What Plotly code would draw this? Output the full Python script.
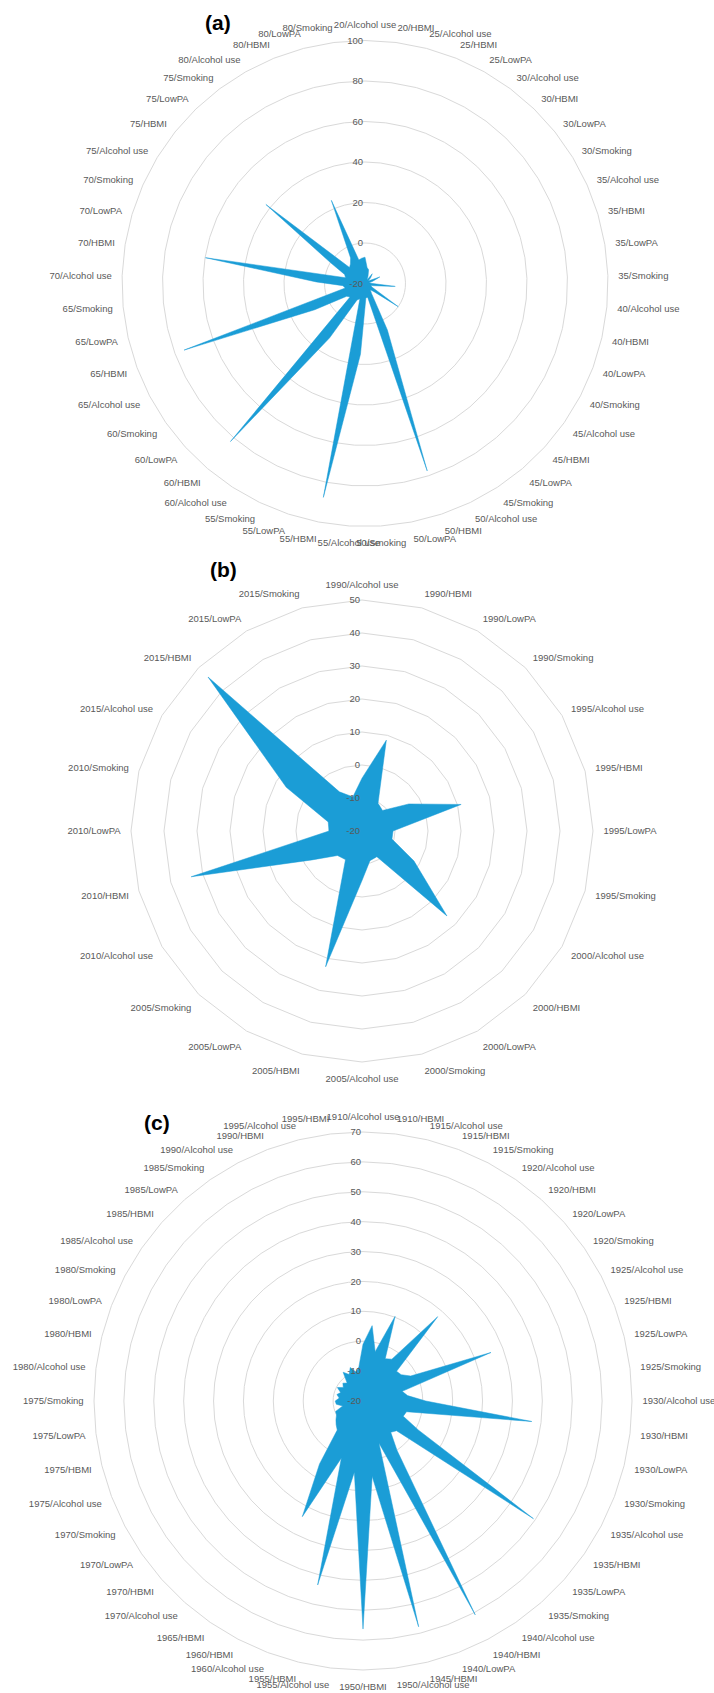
import plotly.graph_objects as go

# ---------------- (a) by age ----------------
ages_a = ["20", "20", "25", "25", "25"] + [a for a in ["30", "35", "40", "45", "50", "55", "60", "65", "70", "75", "80"] for _ in range(4)]
risk4 = ["Alcohol use", "HBMI", "LowPA", "Smoking"]
risks_a = ["Alcohol use", "HBMI", "Alcohol use", "HBMI", "LowPA"] + risk4 * 11
cats_a = [f"{a}/{r}" for a, r in zip(ages_a, risks_a)]
vals_a = [
    -7, -12,                 # 20
    -13, -16, -18,           # 25
    -14, -16, -18, -17,      # 30
    -12, -16, -18, -17,      # 35
    -5, -15, -17, -16,       # 40
    0, -14, -16, -14,        # 45
    5.5, 77.5, -13, -13,     # 50
    15, 87.6, -12, -11,      # 55
    12, 82.5, -10, -9,       # 60
    8, 75.2, -10, -9,        # 65
    4, 59.8, -10, -9,        # 70
    0, 42.6, -9, -8,         # 75
    -5.5, 24.3, -8, -7.4,    # 80
]

# ---------------- (b) by period ----------------
years_b = ["1990", "1995", "2000", "2005", "2010", "2015"]
cats_b = [f"{y}/{r}" for y in years_b for r in risk4]
vals_b = [
    -4, 8.5, -10.3, -11.2,     # 1990
    -3.6, 11.1, -10.6, -10.6,  # 1995
    -1.8, 16.4, -11, -10.7,    # 2000
    -5, 22.6, -10, -9.5,       # 2005
    -2.5, 33.6, -10, -9.4,     # 2010
    6.5, 46, -6.3, -9.3,       # 2015
]

# ---------------- (c) by birth cohort ----------------
cats_c = [
    "1910/Alcohol use", "1910/HBMI",
    "1915/Alcohol use", "1915/HBMI", "1915/Smoking",
    "1920/Alcohol use", "1920/HBMI", "1920/LowPA", "1920/Smoking",
    "1925/Alcohol use", "1925/HBMI", "1925/LowPA", "1925/Smoking",
    "1930/Alcohol use", "1930/HBMI", "1930/LowPA", "1930/Smoking",
    "1935/Alcohol use", "1935/HBMI", "1935/LowPA", "1935/Smoking",
    "1940/Alcohol use", "1940/HBMI", "1940/LowPA",
    "1945/HBMI",
    "1950/Alcohol use", "1950/HBMI",
    "1955/Alcohol use", "1955/HBMI",
    "1960/Alcohol use", "1960/HBMI",
    "1965/HBMI",
    "1970/Alcohol use", "1970/HBMI", "1970/LowPA", "1970/Smoking",
    "1975/Alcohol use", "1975/HBMI", "1975/LowPA", "1975/Smoking",
    "1980/Alcohol use", "1980/HBMI", "1980/LowPA", "1980/Smoking",
    "1985/Alcohol use", "1985/HBMI", "1985/LowPA", "1985/Smoking",
    "1990/Alcohol use", "1990/HBMI",
    "1995/Alcohol use", "1995/HBMI",
]
vals_c = [
    -1, 5.4,
    -3, 10.3, -4,
    -3, 17.7, -5, -4.5,
    -2, 25.8, -6.5, -5,
    1, 36.9, -5, -5.6,
    1, 49.3, -5, -6,
    0, 60.8, -5,
    57.8,
    5.4, 56.3,
    4, 43.4,
    0.4, 23.7,
    5.6,
    -7, -8, -9, -10,
    -10.2, -13, -11, -10.7,
    -12, -11, -12, -10.3,
    -12, -11, -12, -8.3,
    -10, -8,
    -10, -8.5,
]

FILL = "#1B9DD6"
GRID = "#D9D9D9"
TXT = "#595959"
FONT = "Liberation Sans"

W, H = 714, 1693


def domain(cx, cy, r):
    return dict(x=[(cx - r) / W, (cx + r) / W], y=[(H - cy - r) / H, (H - cy + r) / H])


def polar_layout(cats, rmin, rmax, step, dom):
    ticks = list(range(rmin, rmax + 1, step))
    return dict(
        domain=dom,
        bgcolor="white",
        gridshape="linear",
        angularaxis=dict(
            type="category", categoryarray=cats, rotation=90, direction="clockwise",
            showgrid=False, showline=True, linecolor=GRID, linewidth=1,
            ticks="outside", ticklen=8, tickcolor="rgba(0,0,0,0)",
            tickfont=dict(family=FONT, size=9.5, color=TXT),
        ),
        radialaxis=dict(
            range=[rmin, rmax], tickmode="array", tickvals=ticks,
            ticktext=[str(t) for t in ticks], angle=90, tickangle=90,
            side="counterclockwise", showline=False, ticks="",
            gridcolor=GRID, gridwidth=1,
            tickfont=dict(family=FONT, size=9.5, color=TXT),
        ),
    )


fig = go.Figure()
for cats, vals, sub in [(cats_a, vals_a, "polar"), (cats_b, vals_b, "polar2"), (cats_c, vals_c, "polar3")]:
    fig.add_trace(go.Scatterpolar(
        r=vals + vals[:1], theta=cats + cats[:1], subplot=sub,
        mode="lines", fill="toself", fillcolor=FILL,
        line=dict(color=FILL, width=0.5), hoverinfo="skip",
    ))

fig.update_layout(
    width=W, height=H, margin=dict(l=0, r=0, t=0, b=0),
    paper_bgcolor="white", showlegend=False,
    polar=polar_layout(cats_a, -20, 100, 20, domain(365, 283.5, 243)),
    polar2=polar_layout(cats_b, -20, 50, 10, domain(362, 831, 231)),
    polar3=polar_layout(cats_c, -20, 70, 10, domain(363, 1401, 269)),
)

for label, x, y in [("(a)", 218, 22), ("(b)", 223, 569), ("(c)", 157, 1122)]:
    fig.add_annotation(
        text=f"<b>{label}</b>", x=x / W, y=1 - y / H, xref="paper", yref="paper",
        showarrow=False, xanchor="center", yanchor="middle",
        font=dict(family=FONT, size=21, color="black"),
    )

fig.write_html("out.html")
